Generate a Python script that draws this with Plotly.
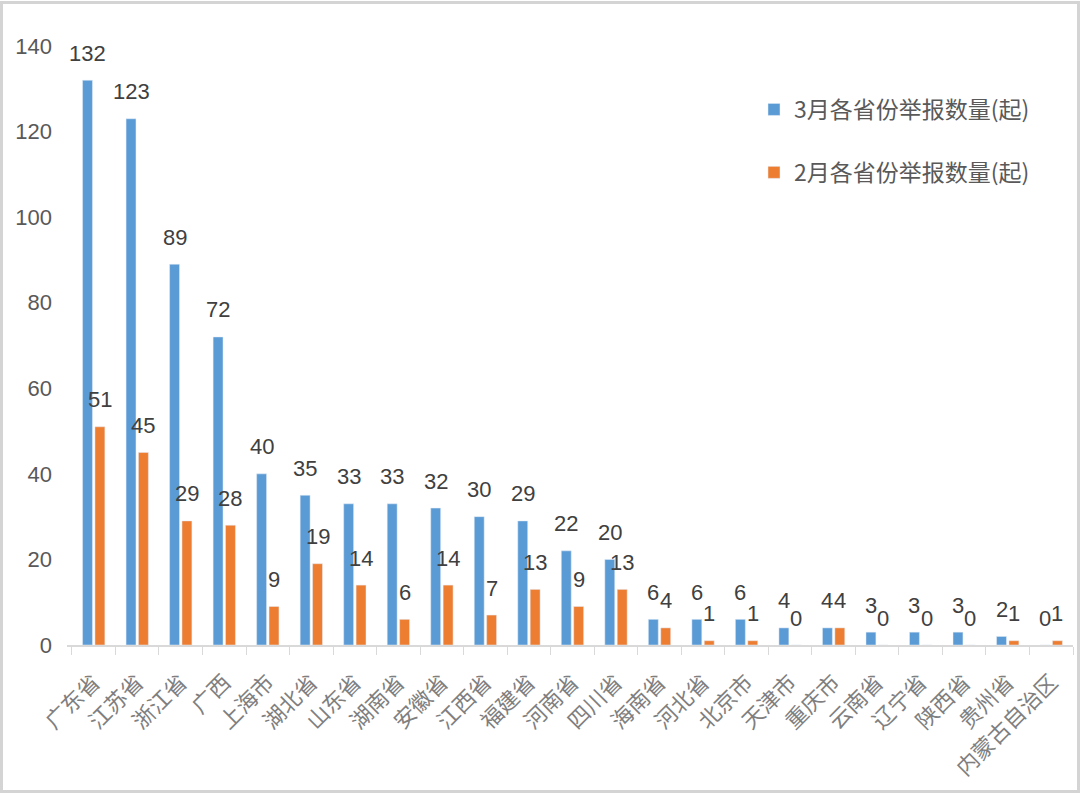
import plotly.graph_objects as go

provinces = ["广东省", "江苏省", "浙江省", "广西", "上海市", "湖北省", "山东省", "湖南省", "安徽省",
             "江西省", "福建省", "河南省", "四川省", "海南省", "河北省", "北京市", "天津市", "重庆市",
             "云南省", "辽宁省", "陕西省", "贵州省", "内蒙古自治区"]
march = [132, 123, 89, 72, 40, 35, 33, 33, 32, 30, 29, 22, 20, 6, 6, 6, 4, 4, 3, 3, 3, 2, 0]
feb = [51, 45, 29, 28, 9, 19, 14, 6, 14, 7, 13, 9, 13, 4, 1, 1, 0, 4, 0, 0, 0, 1, 1]
series_names = ["3月各省份举报数量(起)", "2月各省份举报数量(起)"]

BLUE = "#5B9BD5"
ORANGE = "#ED7D31"
W, H = 1080, 794
ML, MR, MT, MB = 67, 7, 46, 149

fig = go.Figure()
fig.add_trace(go.Bar(x=provinces, y=march, name=series_names[0], marker_color=BLUE,
                     legendgroup="a"))
fig.add_trace(go.Bar(x=provinces, y=feb, name=series_names[1], marker_color=ORANGE,
                     legendgroup="b"))

label_font = dict(family="Liberation Sans, Arial, sans-serif", size=22, color="#404040")
annotations = []
for vals, shift in ((march, -6.2), (feb, 6.2)):
    for p, v in zip(provinces, vals):
        annotations.append(dict(x=p, y=v, text=str(v), showarrow=False, xref="x", yref="y",
                                xshift=shift, yshift=27, yanchor="middle", xanchor="center",
                                font=label_font))

pw = W - ML - MR
ph = H - MT - MB
def px_x(x):
    return (x - ML) / pw
def px_y(y):
    return (H - MB - y) / ph

fig.add_shape(type="rect", xref="paper", yref="paper",
              x0=px_x(1.5), x1=px_x(W - 1.5), y0=px_y(H - 2.5), y1=px_y(2.5),
              line=dict(color="#D4D4D4", width=3), layer="below")

fig.update_layout(
    width=W, height=H,
    margin=dict(l=ML, r=MR, t=MT, b=MB),
    paper_bgcolor="white", plot_bgcolor="white",
    barmode="group", bargap=0.43, bargroupgap=0.2,
    annotations=annotations,
    showlegend=True,
    legend=dict(x=px_x(754), y=px_y(88), xanchor="left", yanchor="top",
                font=dict(family="Noto Sans CJK SC, sans-serif", size=23, color="#595959"),
                traceorder="grouped", tracegroupgap=30, bgcolor="rgba(0,0,0,0)"),
    xaxis=dict(showline=True, linecolor="#D9D9D9", linewidth=1.5,
               ticks="outside", tickson="boundaries", ticklen=8, tickcolor="#D9D9D9",
               tickangle=-45, showgrid=False, ticklabelstandoff=14,
               tickfont=dict(family="Noto Sans CJK SC, sans-serif", size=22, color="#7F7F7F")),
    yaxis=dict(range=[0, 140], dtick=20, showgrid=False, showline=False, zeroline=False,
               ticks="", ticklabelstandoff=14,
               tickfont=dict(family="Liberation Sans, Arial, sans-serif", size=22, color="#595959")),
)

fig.write_html("out.html")
